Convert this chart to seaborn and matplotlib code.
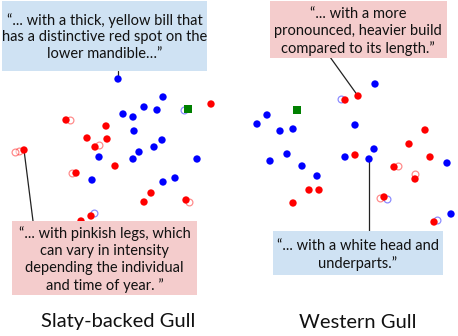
import matplotlib
matplotlib.use("Agg")
import matplotlib.pyplot as plt
from matplotlib.patches import Rectangle
import seaborn as sns
import pandas as pd

sns.set_theme(style="white")
plt.rcParams['font.family'] = ['Lato', 'DejaVu Sans']

# ---- data (pixel-space coordinates) ----
red_x = [66, 106, 87, 107, 95, 24, 115, 76, 151, 144, 186, 91, 81, 211,
         358, 345, 425, 409, 355, 430, 394, 415, 384, 434, 309, 319, 293]
red_y = [120, 126, 138, 139, 147, 150, 166, 173, 193, 202, 200, 216, 221, 104,
         96, 100, 130, 144, 155, 157, 167, 179, 197, 222, 190, 190, 203]
blue_x = [118, 163, 144, 157, 123, 133, 134, 162, 154, 139, 99, 133, 197, 92, 163, 175,
          375, 267, 257, 280, 293, 355, 374, 287, 270, 345, 369, 447, 302, 317, 451]
blue_y = [79, 97, 107, 110, 114, 117, 131, 140, 147, 152, 157, 159, 159, 180, 182, 178,
          84, 115, 124, 131, 129, 125, 149, 154, 161, 157, 159, 163, 166, 176, 214]
green_x = [188, 297]
green_y = [109, 110]
# faint ghost duplicates (crescents) seen beside some points
ghost_x = [70, 99, 19, 15, 72, 189, 94, 184, 398, 415, 380, 387, 437, 341]
ghost_y = [120, 145, 151, 152, 173, 202, 213, 110, 166, 174, 198, 199, 220, 99]
ghost_c = ['r', 'r', 'r', 'r', 'r', 'r', 'b', 'b', 'r', 'r', 'r', 'b', 'b', 'b']

labels = ["Slaty-backed Gull", "Western Gull"]
quotes = [
    "\u201c... with a thick, yellow bill that\nhas a distinctive red spot on the\nlower mandible\u2026\u201d",
    "\u201c... with a more\npronounced, heavier build\ncompared to its length.\u201d",
    "\u201c... with pinkish legs, which\ncan vary in intensity\ndepending the individual\nand time of year. \u201d",
    "\u201c... with a white head and\nunderparts.\u201d",
]

RED, BLUE, GREEN = "#FF0000", "#0000FF", "#008000"
PINK, LBLUE = "#F4CCCC", "#CFE2F3"

pts = pd.DataFrame({
    "x": red_x + blue_x,
    "y": red_y + blue_y,
    "cls": ["r"] * len(red_x) + ["b"] * len(blue_x),
})
ghosts = pd.DataFrame({"x": ghost_x, "y": ghost_y, "cls": ghost_c})

fig = plt.figure(figsize=(4.58, 3.36), dpi=100)
ax = fig.add_axes([0, 0, 1, 1])
ax.set_xlim(0, 458)
ax.set_ylim(336, 0)
ax.axis("off")

# connector lines (box edge -> point)
for (x0, y0), (x1, y1) in [((118, 71), (118, 79)), ((24, 150), (33, 221)),
                           ((330, 57), (358, 96)), ((369, 159), (369, 231))]:
    ax.plot([x0, x1], [y0, y1], color="#222222", lw=0.9, zorder=1)

# ghost crescents
for c, col in [("r", RED), ("b", BLUE)]:
    g = ghosts[ghosts.cls == c]
    sns.scatterplot(data=g, x="x", y="y", s=24, color="white", edgecolor=col,
                    linewidth=0.9, alpha=0.45, legend=False, ax=ax, zorder=2)

sns.scatterplot(data=pts, x="x", y="y", hue="cls", palette={"r": RED, "b": BLUE},
                s=28, edgecolor="none", legend=False, ax=ax, zorder=3)
sns.scatterplot(x=green_x, y=green_y, marker="s", s=28, color=GREEN,
                edgecolor="none", legend=False, ax=ax, zorder=3)

# annotation boxes
boxes = [(2, 1, 207, 71, LBLUE), (270, 1, 447, 58, PINK),
         (12, 221, 197, 295, PINK), (273, 231, 443, 275, LBLUE)]
centers = [(104.5, 37), (358, 31.5), (104.5, 259.5), (358, 255)]
for (x0, y0, x1, y1, fc), (cx, cy), q in zip(boxes, centers, quotes):
    ax.add_patch(Rectangle((x0, y0), x1 - x0, y1 - y0, facecolor=fc,
                           edgecolor="none", zorder=4))
    ax.text(cx, cy, q, ha="center", va="center", fontsize=10.5,
            linespacing=1.25, color="#111111", zorder=5)

ax.text(118, 322, labels[0], ha="center", va="center", fontsize=14.5, color="#111111")
ax.text(358, 322, labels[1], ha="center", va="center", fontsize=14.5, color="#111111")

fig.savefig("out.png", dpi=100)
